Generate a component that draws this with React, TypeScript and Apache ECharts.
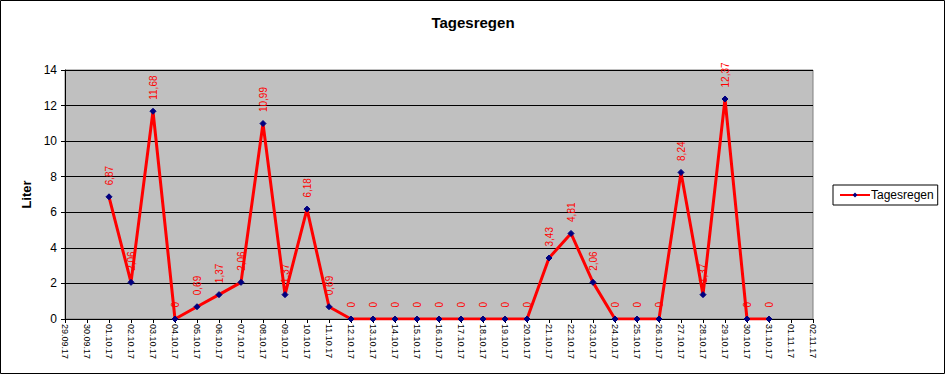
import React, { useEffect, useRef } from "react";
import * as echarts from "echarts";

const categories = [
  "29.09.17", "30.09.17", "01.10.17", "02.10.17", "03.10.17", "04.10.17", "05.10.17",
  "06.10.17", "07.10.17", "08.10.17", "09.10.17", "10.10.17", "11.10.17", "12.10.17",
  "13.10.17", "14.10.17", "15.10.17", "16.10.17", "17.10.17", "18.10.17", "19.10.17",
  "20.10.17", "21.10.17", "22.10.17", "23.10.17", "24.10.17", "25.10.17", "26.10.17",
  "27.10.17", "28.10.17", "29.10.17", "30.10.17", "31.10.17", "01.11.17", "02.11.17",
];

const tagesregen: (number | null)[] = [
  null, null, 6.87, 2.06, 11.68, 0, 0.69,
  1.37, 2.06, 10.99, 1.37, 6.18, 0.69, 0,
  0, 0, 0, 0, 0, 0, 0,
  0, 3.43, 4.81, 2.06, 0, 0, 0,
  8.24, 1.37, 12.37, 0, 0, null, null,
];

const FONT = "'Liberation Sans', Arial, sans-serif";

export default function App() {
  const ref = useRef<HTMLDivElement>(null);
  useEffect(() => {
    document.body.style.margin = "0";
    const chart = echarts.init(ref.current!, null, { renderer: "svg" });
    chart.setOption({
      animation: false,
      backgroundColor: "#ffffff",
      textStyle: { fontFamily: FONT },
      title: {
        text: "Tagesregen",
        left: "center",
        top: 10,
        textStyle: { fontFamily: FONT, fontSize: 15, fontWeight: "bold", color: "#000" },
      },
      legend: {
        data: ["Tagesregen"],
        orient: "vertical",
        left: 833,
        top: 185,
        itemWidth: 30,
        itemHeight: 6,
        itemGap: 0,
        padding: [4, 4, 4, 6],
        borderColor: "#000",
        borderWidth: 1,
        textStyle: { fontFamily: FONT, fontSize: 12, color: "#000", padding: [0, 0, 0, -4] },
      },
      graphic: [
        {
          type: "rect",
          shape: { x: 0.5, y: 0.5, width: 944, height: 373 },
          style: { fill: "none", stroke: "#000", lineWidth: 1 },
          silent: true,
        },
      ],
      grid: {
        left: 65,
        right: 133,
        top: 70,
        bottom: 56,
        show: true,
        backgroundColor: "#c0c0c0",
        borderColor: "#808080",
        borderWidth: 1,
      },
      xAxis: {
        type: "category",
        data: categories,
        boundaryGap: false,
        axisLine: { lineStyle: { color: "#000", width: 1 } },
        axisTick: { show: true, alignWithLabel: true, length: 4, lineStyle: { color: "#000" } },
        axisLabel: {
          interval: 0,
          rotate: -90,
          fontSize: 9,
          color: "#000",
          fontFamily: FONT,
          margin: 5,
        },
        splitLine: { show: false },
      },
      yAxis: {
        type: "value",
        min: 0,
        max: 14,
        interval: 2,
        name: "Liter",
        nameLocation: "middle",
        nameGap: 32,
        nameTextStyle: { fontFamily: FONT, fontSize: 13, fontWeight: "bold", color: "#000" },
        axisLine: { show: true, lineStyle: { color: "#000", width: 1 } },
        axisTick: { show: true, length: 4, lineStyle: { color: "#000" } },
        axisLabel: { fontSize: 12, color: "#000", fontFamily: FONT, margin: 8 },
        splitLine: { show: true, lineStyle: { color: "#000", width: 1 } },
      },
      series: [
        {
          name: "Tagesregen",
          type: "line",
          data: tagesregen,
          symbol: "diamond",
          symbolSize: 6,
          itemStyle: { color: "#000080", borderColor: "#000080" },
          lineStyle: { color: "#ff0000", width: 3 },
          label: {
            show: true,
            position: "top",
            rotate: 90,
            align: "left",
            verticalAlign: "middle",
            distance: 8,
            fontSize: 10,
            color: "#ff0000",
            fontFamily: FONT,
            formatter: (p: any) => String(p.value).replace(".", ","),
          },
          z: 3,
        },
      ],
    });
    return () => chart.dispose();
  }, []);
  return <div ref={ref} style={{ width: 946, height: 375 }} />;
}
